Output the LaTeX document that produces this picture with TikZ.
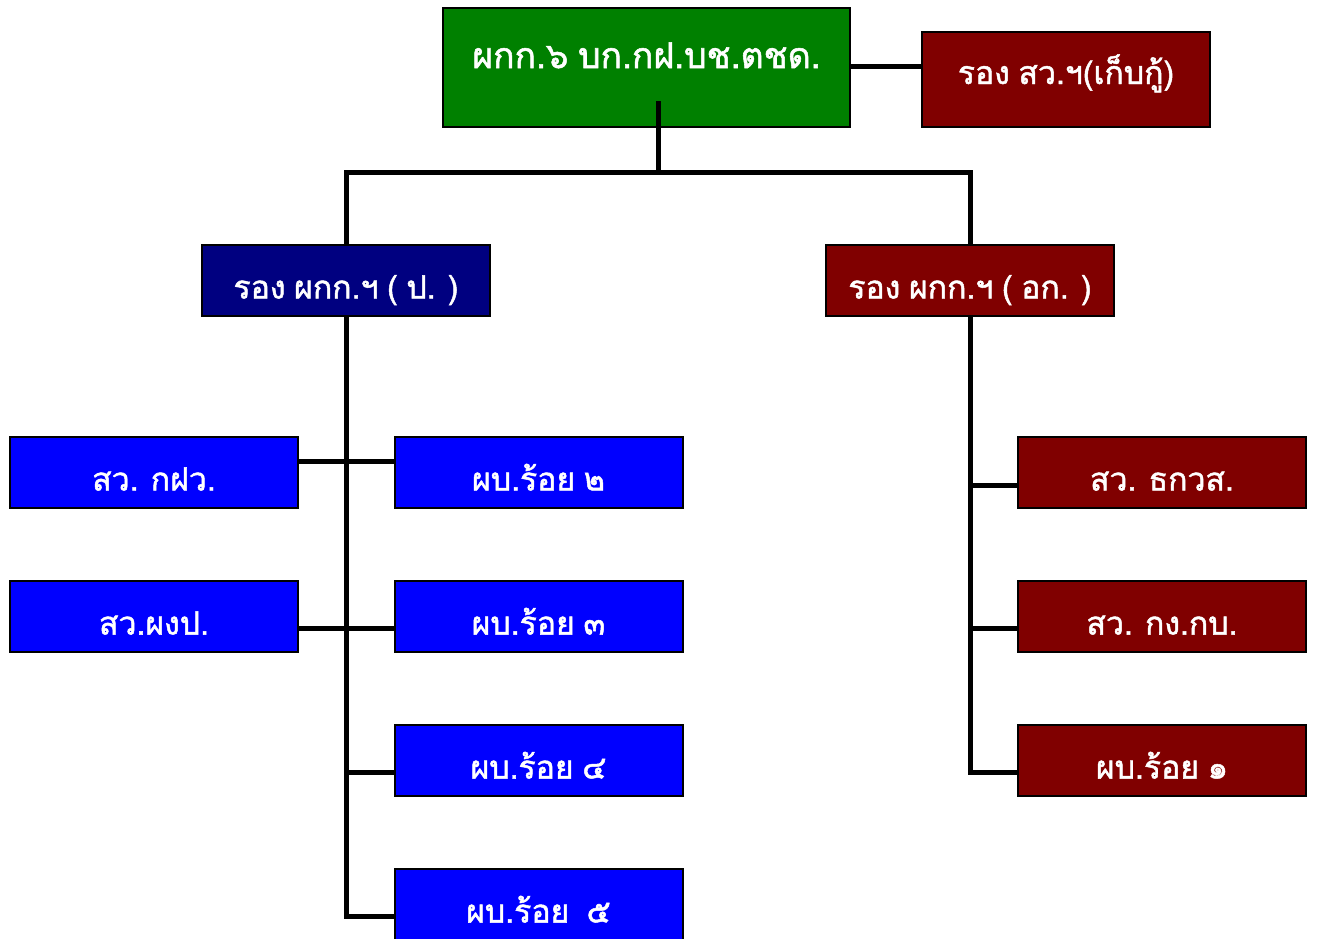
\documentclass[tikz,border=0pt]{standalone}
\usepackage{fontspec}
\newfontfamily\thaifont[Script=Thai,FakeBold=1.5,WordSpace=0.8]{Loma}
\definecolor{cgreen}{RGB}{0,128,0}
\definecolor{cnavy}{RGB}{0,0,128}
\definecolor{cmaroon}{RGB}{128,0,0}
\definecolor{cblue}{RGB}{0,0,255}
\tikzset{
  box/.style={draw=black, line width=2pt, text=white, inner sep=0pt,
    minimum width=288pt, minimum height=71pt, font=\thaifont\fontsize{32}{34}\selectfont,
    text height=36pt, text depth=0pt},
  link/.style={line width=5pt, draw=black},
}
\begin{document}
\begin{tikzpicture}[x=1pt,y=-1pt]
\useasboundingbox (0,0) rectangle (1318,938);
% top
\node[box, fill=cgreen, minimum width=407pt, minimum height=119pt,
  font=\thaifont\fontsize{35.5}{40}\selectfont, text height=13pt, text depth=12pt]
  (top) at (646.5,67.5) {ผกก.๖ บก.กฝ.บช.ตชด.};
\node[box, fill=cmaroon, minimum height=95pt, text height=16pt, text depth=7pt]
  (rsv) at (1066,79.5) {รอง สว.ฯ(เก็บกู้)};
\node[box, fill=cnavy] (dp) at (346,280.5) {รอง ผกก.ฯ ( ป. )};
\node[box, fill=cmaroon] (do) at (970,280.5) {รอง ผกก.ฯ ( อก. )};
% left column
\node[box, fill=cblue] (skw) at (154,472.5) {สว. กฝว.};
\node[box, fill=cblue] (spp) at (154,616.5) {สว.ผงป.};
% middle column
\node[box, fill=cblue] (r2) at (538.5,472.5) {ผบ.ร้อย ๒};
\node[box, fill=cblue] (r3) at (538.5,616.5) {ผบ.ร้อย ๓};
\node[box, fill=cblue] (r4) at (538.5,760.5) {ผบ.ร้อย ๔};
\node[box, fill=cblue] (r5) at (538.5,904.5) {ผบ.ร้อย~~๕};
% right column
\node[box, fill=cmaroon] (sth) at (1162,472.5) {สว. ธกวส.};
\node[box, fill=cmaroon] (skb) at (1162,616.5) {สว. กง.กบ.};
\node[box, fill=cmaroon] (r1) at (1162,760.5) {ผบ.ร้อย ๑};
% connectors
\coordinate (stub) at (658,101);
\coordinate (bus) at (658,172);
\draw[link] (top.east |- 0,66) -- (rsv.west |- 0,66);
\draw[link] (stub) -- (bus);
\draw[link] (dp.north) |- (bus) -| (do.north);
\draw[link] (dp.south) |- ([yshift=-11.5pt]r5.west);
\draw[link] ([yshift=11.5pt]skw.east) -- ([yshift=11.5pt]r2.west);
\draw[link] ([yshift=-11.5pt]spp.east) -- ([yshift=-11.5pt]r3.west);
\draw[link] (dp.south |- r4.west) ++(0,11.5) -- ([yshift=-11.5pt]r4.west);
\draw[link] (do.south) |- ([yshift=-11.5pt]r1.west);
\draw[link] (do.south |- sth.west) ++(0,12.5) -- ([yshift=-12.5pt]sth.west);
\draw[link] (do.south |- skb.west) ++(0,11.5) -- ([yshift=-11.5pt]skb.west);
\end{tikzpicture}
\end{document}
